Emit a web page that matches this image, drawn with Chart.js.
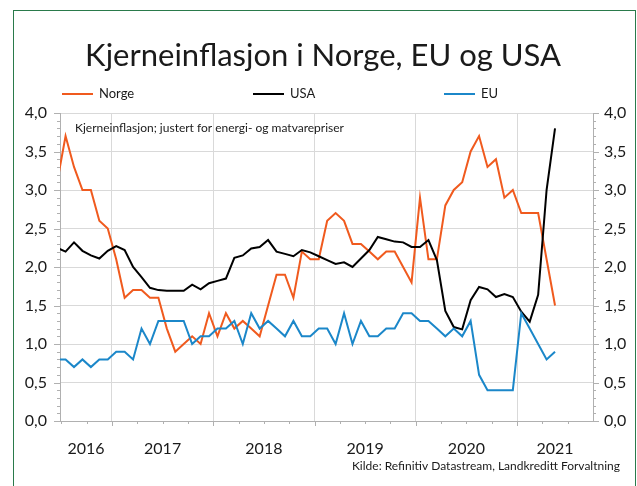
<!DOCTYPE html>
<html>
<head>
<meta charset="utf-8">
<script src="https://cdn.jsdelivr.net/npm/chart.js@4.4.1/dist/chart.umd.min.js"></script>
<style>
html, body { margin: 0; padding: 0; background: #fff; }
#wrap { width: 637px; height: 486px; }
</style>
</head>
<body>
<div id="wrap"><canvas id="grafica" width="637" height="486"></canvas></div>
<script>
// DATA (månedlig, årlig vekst i %)

const months = [
  '2016-06','2016-07','2016-08','2016-09','2016-10','2016-11','2016-12',
  '2017-01','2017-02','2017-03','2017-04','2017-05','2017-06','2017-07','2017-08','2017-09','2017-10','2017-11','2017-12',
  '2018-01','2018-02','2018-03','2018-04','2018-05','2018-06','2018-07','2018-08','2018-09','2018-10','2018-11','2018-12',
  '2019-01','2019-02','2019-03','2019-04','2019-05','2019-06','2019-07','2019-08','2019-09','2019-10','2019-11','2019-12',
  '2020-01','2020-02','2020-03','2020-04','2020-05','2020-06','2020-07','2020-08','2020-09','2020-10','2020-11','2020-12',
  '2021-01','2021-02','2021-03','2021-04','2021-05'
];

const norge = [
  3.1, 3.7, 3.3, 3.0, 3.0, 2.6, 2.5,
  2.1, 1.6, 1.7, 1.7, 1.6, 1.6, 1.2, 0.9, 1.0, 1.1, 1.0, 1.4,
  1.1, 1.4, 1.2, 1.3, 1.2, 1.1, 1.5, 1.9, 1.9, 1.6, 2.2, 2.1,
  2.1, 2.6, 2.7, 2.6, 2.3, 2.3, 2.2, 2.1, 2.2, 2.2, 2.0, 1.8,
  2.9, 2.1, 2.1, 2.8, 3.0, 3.1, 3.5, 3.7, 3.3, 3.4, 2.9, 3.0,
  2.7, 2.7, 2.7, 2.1, 1.5
];

const usa = [
  2.25, 2.20, 2.32, 2.21, 2.15, 2.11, 2.21,
  2.27, 2.22, 2.00, 1.87, 1.73, 1.70, 1.69, 1.69, 1.69, 1.77, 1.71, 1.79,
  1.82, 1.85, 2.12, 2.15, 2.24, 2.26, 2.35, 2.20, 2.17, 2.14, 2.22, 2.19,
  2.14, 2.09, 2.04, 2.06, 2.00, 2.11, 2.22, 2.39, 2.36, 2.33, 2.32, 2.26,
  2.26, 2.35, 2.09, 1.43, 1.22, 1.19, 1.57, 1.74, 1.71, 1.61, 1.65, 1.61,
  1.42, 1.29, 1.64, 3.00, 3.80
];

const eu = [
  0.8, 0.8, 0.7, 0.8, 0.7, 0.8, 0.8,
  0.9, 0.9, 0.8, 1.2, 1.0, 1.3, 1.3, 1.3, 1.3, 1.0, 1.1, 1.1,
  1.2, 1.2, 1.3, 1.0, 1.4, 1.2, 1.3, 1.2, 1.1, 1.3, 1.1, 1.1,
  1.2, 1.2, 1.0, 1.4, 1.0, 1.3, 1.1, 1.1, 1.2, 1.2, 1.4, 1.4,
  1.3, 1.3, 1.2, 1.1, 1.2, 1.1, 1.3, 0.6, 0.4, 0.4, 0.4, 0.4,
  1.4, 1.2, 1.0, 0.8, 0.9
];

const years = [2016, 2017, 2018, 2019, 2020, 2021];
const yearLabels = ['2016', '2017', '2018', '2019', '2020', '2021'];


// AKSE (måneder siden jan 2016)

const xMin = 5.84;
const xMax = 69;

function monthPos(s){
  const p = s.split('-');
  return (Number(p[0]) - 2016) * 12 + (Number(p[1]) - 1) + 0.5;
}

const xPos = months.map(monthPos);

function toPoints(vals){
  return vals.map((v, i) => ({x: xPos[i], y: v}));
}

const yearStarts = years.slice(1).map(y => (y - 2016) * 12);
const yearCenters = years.map(y => (Math.max(xMin, (y - 2016) * 12) + Math.min(xMax, (y - 2015) * 12)) / 2);

const tekst = '#1a1a1a';
const gridFarge = '#d9d9d9';
const aksefarge = '#b0b0b0';

function komma(v){
  return v.toFixed(1).replace('.', ',');
}


// TEGNING AV TITTEL, FORKLARING, KILDE OG TICKS

const ekstra = {
  id: 'ekstra',
  beforeDraw(chart){
    const c = chart.ctx;
    c.save();
    c.fillStyle = '#fff';
    c.fillRect(0, 0, chart.width, chart.height);
    c.strokeStyle = '#2a7a4b';
    c.lineWidth = 1;
    c.strokeRect(13.5, 10.5, 622, 490);
    c.restore();
  },
  afterDraw(chart){
    const c = chart.ctx;
    const xs = chart.scales.x;
    const ys = chart.scales.y;
    const area = chart.chartArea;
    c.save();

    // ticks
    c.strokeStyle = aksefarge;
    c.lineWidth = 1;
    c.beginPath();
    for (let i = 0; i <= 40; i++){
      const py = Math.round(ys.getPixelForValue(i / 10)) + 0.5;
      const len = i % 5 === 0 ? 6 : 3;
      c.moveTo(area.left - len, py); c.lineTo(area.left, py);
      c.moveTo(area.right, py); c.lineTo(area.right + len, py);
    }
    for (let m = 6; m < xMax; m += 3){
      if (m < xMin) continue;
      const px = Math.round(xs.getPixelForValue(m)) + 0.5;
      const len = m % 12 === 0 ? 5 : 3;
      c.moveTo(px, area.bottom); c.lineTo(px, area.bottom + len);
    }
    c.stroke();

    // tittel
    c.fillStyle = tekst;
    c.textAlign = 'center';
    c.textBaseline = 'alphabetic';
    c.font = '31px Lato';
    c.fillText('Kjerneinflasjon i Norge, EU og USA', 323, 66);

    // forklaring
    c.font = '13px Lato';
    c.textAlign = 'left';
    c.textBaseline = 'middle';
    const legX = [62, 253, 444];
    chart.data.datasets.forEach((ds, i) => {
      c.strokeStyle = ds.borderColor;
      c.lineWidth = 2;
      c.beginPath();
      c.moveTo(legX[i], 94);
      c.lineTo(legX[i] + 31, 94);
      c.stroke();
      c.fillText(ds.label, legX[i] + 37, 94);
    });

    // undertittel
    c.font = '12px Lato';
    c.fillText('Kjerneinflasjon; justert for energi- og matvarepriser', 75, 128);

    // kilde
    c.textAlign = 'right';
    c.fillText('Kilde: Refinitiv Datastream, Landkreditt Forvaltning', 620, 466);

    c.restore();
  }
};


// GRAFEN

Chart.defaults.font.family = 'Lato, "Open Sans", sans-serif';
Chart.defaults.color = tekst;

const ctx = document.getElementById('grafica');

new Chart(ctx, {
  type: 'line',
  data: {
    datasets: [
      {label: 'Norge', data: toPoints(norge), borderColor: '#F05A1E', order: 3},
      {label: 'USA', data: toPoints(usa), borderColor: '#000000', order: 2},
      {label: 'EU', data: toPoints(eu), borderColor: '#1B87C9', order: 1}
    ]
  },
  options: {
    responsive: false,
    animation: false,
    devicePixelRatio: 1,
    events: [],
    layout: {padding: {top: 113, left: 0, right: 0, bottom: 0}},
    elements: {
      line: {borderWidth: 2, tension: 0, fill: false},
      point: {radius: 0}
    },
    datasets: {line: {clip: 0}},
    plugins: {
      legend: {display: false},
      tooltip: {enabled: false}
    },
    scales: {
      x: {
        type: 'linear',
        min: xMin,
        max: xMax,
        bounds: 'data',
        afterBuildTicks: s => {
          s.ticks = yearStarts.concat(yearCenters).map(v => ({value: v}));
        },
        afterFit: s => { s.height = 65; },
        ticks: {
          autoSkip: false,
          maxRotation: 0,
          padding: 18,
          font: {size: 16},
          callback: v => {
            const i = yearCenters.indexOf(v);
            return i >= 0 ? yearLabels[i] : '';
          }
        },
        grid: {
          drawTicks: false,
          color: c => (c.tick && yearStarts.includes(c.tick.value)) ? gridFarge : 'rgba(0,0,0,0)'
        },
        border: {color: aksefarge}
      },
      y: {
        position: 'left',
        min: 0,
        max: 4,
        afterFit: s => { s.width = 60; },
        ticks: {stepSize: 0.5, padding: 13, font: {size: 16}, callback: komma},
        grid: {color: gridFarge, drawTicks: false},
        border: {color: aksefarge}
      },
      y2: {
        position: 'right',
        min: 0,
        max: 4,
        afterFit: s => { s.width = 44; },
        ticks: {stepSize: 0.5, padding: 11, font: {size: 16}, callback: komma},
        grid: {drawOnChartArea: false, drawTicks: false},
        border: {color: aksefarge}
      }
    }
  },
  plugins: [ekstra]
});
</script>
</body>
</html>
